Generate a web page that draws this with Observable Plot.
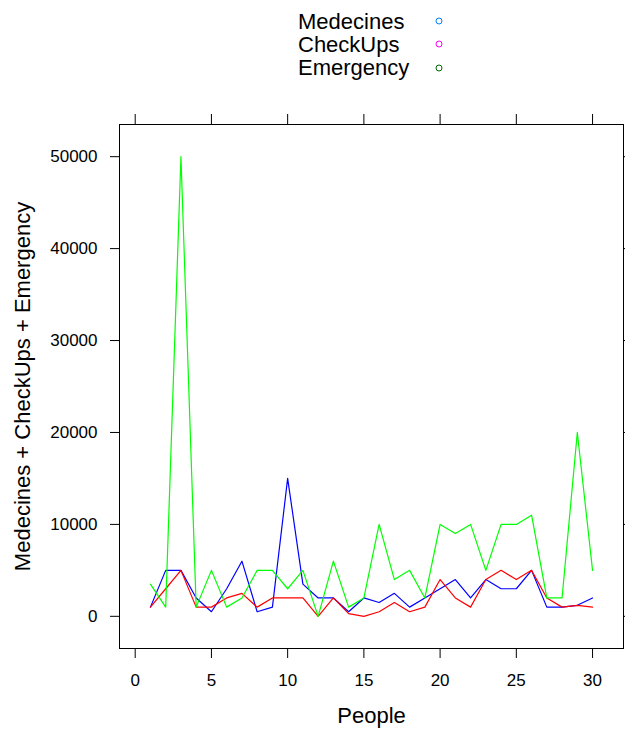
<!DOCTYPE html>
<html>
<head>
<meta charset="utf-8">
<script src="https://cdn.jsdelivr.net/npm/d3@7"></script>
<script src="https://cdn.jsdelivr.net/npm/@observablehq/plot@0.6"></script>
<style>
  body { margin: 0; background: #fff; font-family: "Liberation Sans", Arial, sans-serif; }
  #legend { position: relative; height: 90px; width: 625px; }
  #legend .t { position: absolute; left: 298px; font-size: 22px; line-height: 25px; color: #000; white-space: nowrap; }
  #legend svg { position: absolute; overflow: visible; }
</style>
</head>
<body>
<div id="legend"></div>
<div id="chart"></div>
<script>
// ---- data ----
const people = [1,2,3,4,5,6,7,8,9,10,11,12,13,14,15,16,17,18,19,20,21,22,23,24,25,26,27,28,29,30];
const seriesNames = ["Medecines", "CheckUps", "Emergency"];
const medecines = [1000,5000,5000,2000,500,3000,6000,500,1000,15000,3500,2000,2000,500,2000,1500,2500,1000,2000,3000,4000,2000,4000,3000,3000,5000,1000,1000,1200,2000];
const checkUps  = [1000,3000,5000,1000,1000,2000,2500,1000,2000,2000,2000,0,2000,300,0,500,1500,500,1000,4000,2000,1000,4000,5000,4000,5000,2000,1000,1200,1000];
const emergency = [3500,1000,50000,1000,5000,1000,2000,5000,5000,3000,5000,0,6000,1000,2000,10000,4000,5000,2000,10000,9000,10000,5000,10000,10000,11000,2000,2000,20000,5000];
const xTicks = [0,5,10,15,20,25,30];
const yTicks = [0,10000,20000,30000,40000,50000];
const xLabel = "People";
const yLabel = "Medecines + CheckUps + Emergency";
const lineColors = ["#0000ff", "#ff0000", "#00ff00"];
const legendColors = ["#0080ff", "#ff00ff", "#006400"];

// ---- legend ----
const legend = document.getElementById("legend");
const rowTops = [9, 32, 55];
const symY = [20.7, 44, 68.3];
seriesNames.forEach((name, i) => {
  const t = document.createElement("div");
  t.className = "t";
  t.style.top = rowTops[i] + "px";
  t.textContent = name;
  legend.appendChild(t);
  const s = document.createElementNS("http://www.w3.org/2000/svg", "svg");
  s.setAttribute("width", 10); s.setAttribute("height", 10);
  s.style.left = (439 - 5) + "px";
  s.style.top = (symY[i] - 5) + "px";
  const c = document.createElementNS("http://www.w3.org/2000/svg", "circle");
  c.setAttribute("cx", 5); c.setAttribute("cy", 5); c.setAttribute("r", 3);
  c.setAttribute("fill", "none"); c.setAttribute("stroke", legendColors[i]); c.setAttribute("stroke-width", 1);
  s.appendChild(c);
  legend.appendChild(s);
});

// ---- long table ----
const valueArrays = [medecines, checkUps, emergency];
const rows = [];
seriesNames.forEach((name, k) => {
  people.forEach((p, i) => rows.push({People: p, value: valueArrays[k][i], series: name}));
});

const chart = Plot.plot({
  width: 625,
  height: 644,
  marginLeft: 119,
  marginRight: 2,
  marginTop: 34,
  marginBottom: 86,
  style: { fontFamily: "'Liberation Sans', Arial, sans-serif", fontSize: "17px", color: "#000", background: "#fff", overflow: "visible" },
  x: { domain: [-1.03, 32.03], axis: null },
  y: { domain: [-3500, 53500], axis: null },
  color: { domain: seriesNames, range: lineColors },
  marks: [
    Plot.line(rows, { x: "People", y: "value", z: "series", stroke: "series", strokeWidth: 1.2 }),
    Plot.frame({ stroke: "#000" }),
    Plot.axisX(xTicks, { anchor: "bottom", tickSize: 10, tickPadding: 15, fontSize: 17, label: null, tickFormat: d => String(d) }),
    Plot.axisX(xTicks, { anchor: "top", tickSize: 11, label: null, tickFormat: () => "" }),
    Plot.axisY(yTicks, { anchor: "left", tickSize: 9, tickPadding: 13, fontSize: 17, label: null, tickFormat: d => String(d) }),
    Plot.axisY(yTicks, { anchor: "right", tickSize: 10, label: null, tickFormat: () => "" }),
    Plot.text([xLabel], { text: d => d, frameAnchor: "bottom", textAnchor: "middle", dy: 74, fontSize: 22 }),
    Plot.text([yLabel], { text: d => d, frameAnchor: "left", textAnchor: "middle", dx: -97, rotate: -90, fontSize: 22 })
  ]
});
document.getElementById("chart").appendChild(chart);
</script>
</body>
</html>
